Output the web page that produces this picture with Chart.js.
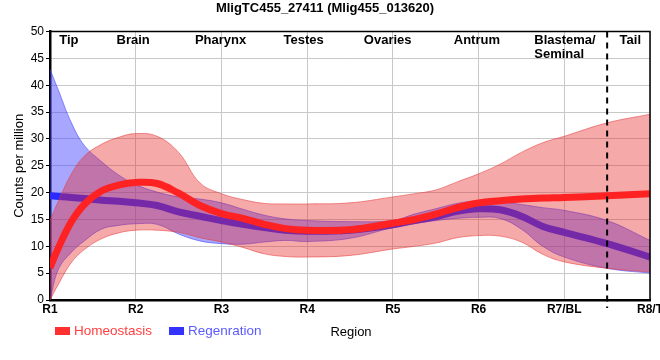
<!DOCTYPE html>
<html>
<head>
<meta charset="utf-8">
<script src="https://cdn.jsdelivr.net/npm/chart.js@4.4.1/dist/chart.umd.min.js"></script>
<style>
    body { margin: 0; overflow: hidden; background: #fff; }
    #wrap { width: 660px; height: 360px; overflow: hidden; }
</style>
</head>
<body>
<div id="wrap"><canvas id="regionChart" width="690" height="360"></canvas></div>
<script>
// position along the body (1 = R1 ... 8 = R8/T)
const positions = [1, 1.1, 1.25, 1.4, 1.6, 1.8, 2, 2.25, 2.5, 2.75, 3, 3.25, 3.5, 3.75, 4, 4.5, 5, 5.25, 5.5, 5.75, 6, 6.25, 6.5, 6.75, 7, 7.5, 8];

// Homeostasis: fitted line and its band
const homeoMean = [6, 9.8, 14.6, 17.8, 20.3, 21.4, 21.9, 21.7, 19.9, 17.6, 16.1, 15.2, 14.1, 13.3, 13, 13.1, 14.3, 15, 16, 17.2, 18.1, 18.5, 18.8, 19, 19.1, 19.4, 19.8];
const homeoHi = [14.8, 18.5, 23.5, 26.8, 29, 30.3, 31, 30.5, 27.5, 21.8, 19.8, 18.7, 18, 17.9, 17.9, 18.1, 19.2, 19.8, 20.5, 22, 23.5, 25.3, 27.5, 29.3, 30.5, 33, 34.6];
const homeoLo = [0, 3, 7, 9.4, 11.4, 12.5, 13, 13, 12.6, 11.6, 10.8, 9.8, 8.6, 8.1, 8, 8.3, 9.5, 10, 10.6, 11.6, 12, 11.9, 10.8, 8.5, 7.1, 5.9, 5.2];

// Regeneration: fitted line and its band
const regenMean = [19.4, 19.3, 19.1, 18.9, 18.6, 18.4, 18.1, 17.6, 16.4, 15.6, 14.8, 14.1, 13.5, 13, 12.8, 13, 14, 14.8, 15.5, 16.5, 17, 16.8, 15.6, 13.7, 12.6, 10.5, 8];
const regenHi = [43, 39, 33, 28.8, 25.8, 23.3, 21.5, 20.1, 19.2, 18.8, 18.1, 16.9, 15.8, 15.1, 14.8, 14.6, 14.8, 16, 17, 18, 18.5, 18.3, 17.8, 17.2, 16.7, 14.8, 11.1];
const regenLo = [0, 5.8, 8.9, 11, 13.2, 13.9, 14.2, 14.1, 12.3, 11, 10.5, 10.4, 10.8, 11.1, 10.9, 11.5, 13.5, 14.2, 14.8, 15.2, 15.4, 15.2, 13.2, 10, 8, 5.9, 5];

const tickLabels = ['R1', 'R2', 'R3', 'R4', 'R5', 'R6', 'R7/BL', 'R8/T'];
const regionNames = ['Tip', 'Brain', 'Pharynx', 'Testes', 'Ovaries', 'Antrum', 'Blastema/\nSeminal', 'Tail'];
const seriesNames = ['Homeostasis', 'Regenration'];

const FONT = "'Liberation Sans', Arial, sans-serif";

function toPoints(values) {
    return values.map((v, i) => ({ x: positions[i], y: v }));
}

function lineSet(label, values, color) {
    return {
        label: label,
        data: toPoints(values),
        borderColor: color,
        borderWidth: 7,
        pointRadius: 0,
        tension: 0.4,
        fill: false
    };
}

function bandSet(values, edge, fillColor, fillTo) {
    return {
        label: '',
        data: toPoints(values),
        borderColor: edge,
        borderWidth: 1,
        backgroundColor: fillColor,
        pointRadius: 0,
        tension: 0.4,
        fill: fillTo
    };
}

// labels across the top, dashed Blastema / Tail divider, box edges, legend
const decorations = {
    id: 'decorations',
    afterDraw(chart) {
        const ctx = chart.ctx;
        const xs = chart.scales.x;
        const area = chart.chartArea;
        ctx.save();

        // top and right edges of the plot box
        ctx.strokeStyle = '#000';
        ctx.lineWidth = 1.5;
        ctx.beginPath();
        ctx.moveTo(area.left, area.top);
        ctx.lineTo(area.right, area.top);
        ctx.lineTo(area.right, area.bottom);
        ctx.stroke();

        // dashed divider
        const dx = xs.getPixelForValue(7.5);
        ctx.setLineDash([6, 5]);
        ctx.lineWidth = 2;
        ctx.beginPath();
        ctx.moveTo(dx, area.top);
        ctx.lineTo(dx, area.bottom + 8);
        ctx.stroke();
        ctx.setLineDash([]);

        // region names
        const where = [1.22, 1.97, 2.99, 3.96, 4.94, 5.98, 6.65, 7.77];
        ctx.fillStyle = '#000';
        ctx.font = 'bold 13px ' + FONT;
        ctx.textBaseline = 'middle';
        regionNames.forEach((name, i) => {
            const lines = name.split('\n');
            ctx.textAlign = lines.length > 1 ? 'left' : 'center';
            lines.forEach((t, j) => {
                ctx.fillText(t, xs.getPixelForValue(where[i]), area.top + 9 + j * 14);
            });
        });

        // legend
        const colors = ['#ff3030', '#3333ff'];
        const textColors = ['#ff4040', '#5a5aff'];
        let lx = 55;
        const ly = 331;
        ctx.font = '13.5px ' + FONT;
        ctx.textAlign = 'left';
        seriesNames.forEach((name, i) => {
            ctx.fillStyle = colors[i];
            ctx.fillRect(lx, ly - 4, 15, 8);
            ctx.fillStyle = textColors[i];
            ctx.fillText(name, lx + 19, ly);
            lx += 19 + ctx.measureText(name).width + 17;
        });

        // axis title
        ctx.fillStyle = '#000';
        ctx.font = '13px ' + FONT;
        ctx.textAlign = 'center';
        ctx.fillText('Region', 351, 332);
        ctx.restore();
    }
};

document.addEventListener("DOMContentLoaded", function() {
    const ctx = document.getElementById('regionChart').getContext('2d');
    new Chart(ctx, {
        type: 'line',
        data: {
            datasets: [
                lineSet(seriesNames[0], homeoMean, '#ff2222'),
                bandSet(homeoHi, 'rgba(230,60,60,0.55)', 'rgba(230,40,40,0.4)', '+1'),
                bandSet(homeoLo, 'rgba(230,60,60,0.55)', 'rgba(230,40,40,0.4)', false),
                lineSet(seriesNames[1], regenMean, '#2a2aff'),
                bandSet(regenHi, 'rgba(60,60,255,0.55)', 'rgba(60,60,255,0.45)', '+1'),
                bandSet(regenLo, 'rgba(60,60,255,0.55)', 'rgba(60,60,255,0.45)', false)
            ]
        },
        options: {
            responsive: false,
            animation: false,
            layout: { padding: { top: 0, right: 40, bottom: 40, left: 0 } },
            plugins: {
                legend: { display: false },
                tooltip: { enabled: false },
                title: {
                    display: true,
                    text: 'MligTC455_27411 (Mlig455_013620)',
                    color: '#000',
                    font: { family: FONT, size: 13, weight: 'bold' },
                    padding: { top: 1, bottom: 15 }
                }
            },
            scales: {
                x: {
                    type: 'linear',
                    min: 1,
                    max: 8,
                    afterFit: function(scale) { scale.height = 20; },
                    ticks: {
                        stepSize: 1,
                        autoSkip: false,
                        maxRotation: 0,
                        padding: 2,
                        color: '#000',
                        font: { family: FONT, size: 12, weight: 'bold' },
                        callback: function(v) { return tickLabels[v - 1]; }
                    },
                    grid: { color: '#c8c8c8', drawTicks: false },
                    border: { color: '#000', width: 2.5 }
                },
                y: {
                    min: 0,
                    max: 50,
                    afterFit: function(scale) { scale.width = 50; },
                    ticks: {
                        stepSize: 5,
                        padding: 2,
                        color: '#000',
                        font: { family: FONT, size: 12 }
                    },
                    grid: { color: '#c8c8c8', tickLength: 4, tickColor: '#000' },
                    border: { color: '#000', width: 2.5 },
                    title: {
                        display: true,
                        text: 'Counts per million',
                        color: '#000',
                        font: { family: FONT, size: 13 },
                        padding: { top: 12, bottom: 0 }
                    }
                }
            }
        },
        plugins: [decorations]
    });
});
</script>
</body>
</html>
